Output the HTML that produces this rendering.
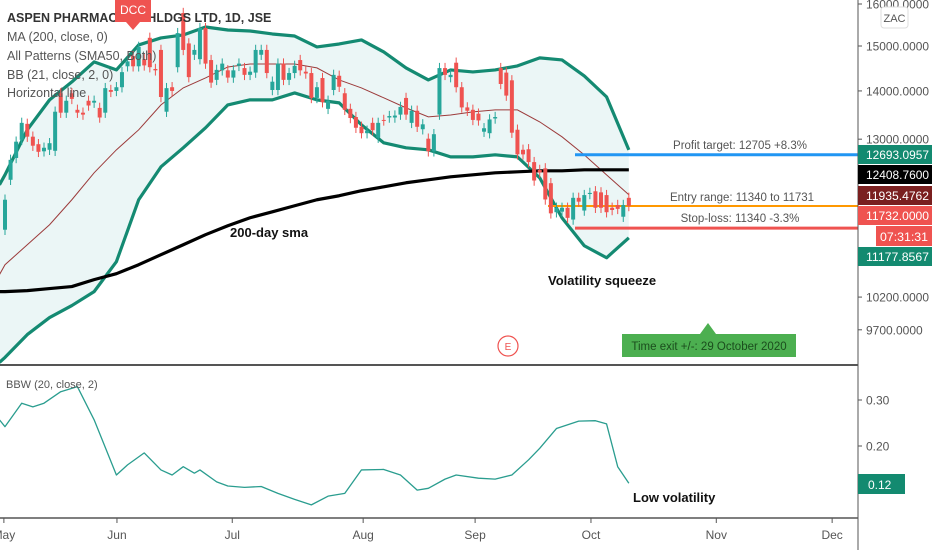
<!DOCTYPE html>
<html><head><meta charset="utf-8">
<style>
html,body{margin:0;padding:0;background:#fff;}
body{width:932px;height:550px;overflow:hidden;position:relative;font-family:"Liberation Sans",sans-serif;}
svg{position:absolute;left:0;top:0;}
</style></head>
<body>
<svg id="chart" width="932" height="550" viewBox="0 0 932 550">
  <rect x="0" y="0" width="932" height="550" fill="#ffffff"/>
  <g id="bands"></g>
  <g id="sma"></g>
  <g id="levels"></g>
  <g id="candles"></g>
  <g id="bbw"></g>
  <g id="axes"></g>
  <g id="annot"></g>
</svg>
<script>
// ---------- data ----------
const opens = [11312,12214,12630,12987,13310,13050,12900,12760,12790,12770,13950,13540,13950,13600,13540,13790,13750,13640,13540,14020,
14000,14080,14540,14770,14540,14700,15190,14480,14910,13560,14080,14520,15780,15060,14800,14700,15420,14680,14240,14450,
14450,14290,14550,14500,14350,14400,14800,14910,14020,14020,14600,14240,14390,14680,14420,14390,13850,14280,13620,14020,
14330,13950,13620,13450,13250,13120,13330,13030,13390,13440,13440,13500,13850,13330,13580,13200,13010,12760,13500,14500,
14300,14620,14080,13650,13600,13520,13150,13120,13420,14500,14400,14230,13190,12790,12800,12550,12400,12430,12150,11620,
11630,11700,11490,11880,11650,11950,12000,11980,11930,11700,11750,11540,11880];
const closes = [11845,12594,12950,13330,13050,12870,12750,12830,12920,13560,13540,13790,13830,13540,13500,13690,13790,13440,14060,13980,
14080,14410,14650,14540,14980,14560,14520,14450,13870,14060,14000,15300,14910,14300,14910,15420,14600,14180,14460,14600,
14290,14450,14600,14350,14420,14910,14910,14390,14200,14600,14240,14390,14550,14450,14380,13850,14080,13760,13790,14350,
14090,13600,13430,13230,13120,13170,13180,13330,13380,13470,13480,13660,13500,13580,13250,13300,12760,13100,14500,14350,
14350,14080,13650,13580,13390,13380,13220,13400,13450,14150,13900,13130,12700,12700,12550,12200,12350,11850,11600,11700,
11700,11520,11880,11810,11930,11970,11700,11700,11620,11660,11680,11750,11732];
const bandIdx = [-1,0,4,8,12,16,20,24,28,32,36,40,44,48,52,56,60,64,68,72,76,80,84,88,92,96,100,104,108,112];
const bbUpper = [12120,12307,13188,13809,14195,14638,14459,15025,15187,15257,15445,15374,15350,15280,15232,14979,15047,15140,14864,14504,14239,14459,14415,14459,14549,14729,14683,14327,13873,12789];
const bbLower = [9225,9297,9629,9884,10068,10286,10770,11845,12459,12829,13229,13703,13809,13809,13957,13809,13745,13288,12927,12829,12789,12651,12651,12691,12651,12250,11520,11037,10835,11173];
const bbMid = [10557,10720,11054,11399,11845,12345,12789,13188,13703,14065,14283,14525,14592,14592,14592,14504,14239,14065,13852,13640,13453,13493,13556,13598,13598,13350,13047,12691,12307,11936];
const sma200 = [10286,10286,10302,10334,10366,10477,10573,10720,10886,11054,11226,11381,11522,11628,11736,11845,11918,12010,12083,12158,12214,12270,12307,12345,12364,12383,12383,12402,12402,12402];
const bbwIdx = [-1,0,3,5,7,10,13,16,20,22,25,28,30,32,34,35,38,40,43,46,49,52,55,58,61,64,68,71,74,76,79,81,85,88,91,94,96,99,103,106,108,110,112];
const bbwVals = [0.257,0.242,0.293,0.285,0.293,0.318,0.329,0.257,0.137,0.159,0.185,0.148,0.137,0.155,0.141,0.148,0.122,0.113,0.110,0.112,0.097,0.084,0.072,0.091,0.097,0.148,0.149,0.137,0.104,0.108,0.128,0.137,0.130,0.128,0.137,0.170,0.195,0.238,0.254,0.255,0.248,0.155,0.119];
const priceTicks = [16000,15000,14000,13000,10200,9700];
const bbwTicks = [0.30,0.20];
const months = ["May","Jun","Jul","Aug","Sep","Oct","Nov","Dec"];
const monthIdx = [-0.2,20.1,40.8,64.3,84.4,105.2,127.7,148.5];
const profitTarget = 12693.0957, entryLevel = 11732, stopLoss = 11340;

// ---------- scales ----------
const NS = "http://www.w3.org/2000/svg";
const xOf = i => 5 + 5.57 * i;
const yOf = p => 4 + 651 * Math.log(16000 / p);
const yB = v => 446 + (0.20 - v) * 460;
function mk(tag, attrs, parent){const e=document.createElementNS(NS,tag);for(const k in attrs)e.setAttribute(k,attrs[k]);parent.appendChild(e);return e;}
const G = id => document.getElementById(id);

// ---------- bands ----------
const up = bandIdx.map((i,k)=>[xOf(i),yOf(bbUpper[k])]);
const lo = bandIdx.map((i,k)=>[xOf(i),yOf(bbLower[k])]);
const fillPts = up.concat(lo.slice().reverse()).map(p=>p.join(",")).join(" ");
const bf = mk("polygon",{points:fillPts,fill:"#ebf6f6"},G("bands"));


const ul = mk("polyline",{points:up.map(p=>p.join(",")).join(" "),fill:"none",stroke:"#148a72","stroke-width":3.2,"stroke-linejoin":"round"},G("bands"));


const ll = mk("polyline",{points:lo.map(p=>p.join(",")).join(" "),fill:"none",stroke:"#148a72","stroke-width":3.2,"stroke-linejoin":"round"},G("bands"));


const ml = mk("polyline",{points:bandIdx.map((i,k)=>xOf(i)+","+yOf(bbMid[k])).join(" "),fill:"none",stroke:"#9c3b3b","stroke-width":1},G("bands"));



// ---------- 200 sma ----------
const sl = mk("polyline",{points:bandIdx.map((i,k)=>xOf(i)+","+yOf(sma200[k])).join(" "),fill:"none",stroke:"#000","stroke-width":3.2,"stroke-linejoin":"round"},G("sma"));



// ---------- horizontal levels ----------
const lv = G("levels");
const l1 = mk("line",{x1:575,x2:858,y1:yOf(profitTarget),y2:yOf(profitTarget),stroke:"#2196f3","stroke-width":3},lv);


const l2 = mk("line",{x1:548,x2:858,y1:yOf(entryLevel),y2:yOf(entryLevel),stroke:"#ff9800","stroke-width":2},lv);


const l3 = mk("line",{x1:575,x2:858,y1:yOf(stopLoss),y2:yOf(stopLoss),stroke:"#ef5350","stroke-width":3},lv);



// ---------- candles ----------
const cg = G("candles");
opens.forEach((o,i)=>{
  const c = closes[i]; const up = c>=o; const col = up?"#26a69a":"#ef5350";
  const x = xOf(i); const hi = Math.max(o,c)*1.008, lw = Math.min(o,c)*0.992;
  const w = mk("line",{x1:x,x2:x,y1:yOf(hi),y2:yOf(lw),stroke:col,"stroke-width":1},cg);
  
  
  const yt = yOf(Math.max(o,c)), yb = yOf(Math.min(o,c));
  const b = mk("rect",{x:x-2,y:yt,width:4,height:Math.max(1,yb-yt),fill:col},cg);
  
  
});

// ---------- BBW ----------
const bl = mk("polyline",{points:bbwIdx.map((i,k)=>xOf(i)+","+yB(bbwVals[k])).join(" "),fill:"none",stroke:"#2a9d8f","stroke-width":1.3,"stroke-linejoin":"round"},G("bbw"));



// ---------- axes ----------
const ax = G("axes");
const al = mk("line",{x1:858,x2:858,y1:0,y2:550,stroke:"#555","stroke-width":1},ax);


const dv = mk("line",{x1:0,x2:858,y1:365,y2:365,stroke:"#555","stroke-width":2},ax);


const bt = mk("line",{x1:0,x2:858,y1:518,y2:518,stroke:"#555","stroke-width":1.5},ax);


priceTicks.forEach(p=>{
  const y = yOf(p);
  const t = mk("line",{x1:858,x2:862,y1:y,y2:y,stroke:"#555"},ax);
  
  
  const s = p.toFixed(4);
  const tx = mk("text",{x:866,y:y+4.5,"font-size":12,fill:"#555","font-family":"Liberation Sans, sans-serif",textLength:s.length*6.3,lengthAdjust:"spacingAndGlyphs"},ax);
  tx.textContent = s;
  
  
});
bbwTicks.forEach(v=>{
  const y = yB(v);
  const t = mk("line",{x1:858,x2:862,y1:y,y2:y,stroke:"#555"},ax);
  
  
  const tx = mk("text",{x:866,y:y+4.5,"font-size":12,fill:"#555","font-family":"Liberation Sans, sans-serif"},ax);
  tx.textContent = v.toFixed(2);
  
  
});
months.forEach((m,k)=>{
  const x = xOf(monthIdx[k]);
  const t = mk("line",{x1:x,x2:x,y1:518,y2:523,stroke:"#555"},ax);
  
  
  const tx = mk("text",{x:x,y:539,"font-size":12,fill:"#555","text-anchor":"middle","font-family":"Liberation Sans, sans-serif"},ax);
  tx.textContent = m;
  
  
});
</script>
<svg width="932" height="550" style="pointer-events:none">
  <g font-family="Liberation Sans, sans-serif">
    <rect x="858" y="145" width="74" height="19" fill="#138a70"/>
    <text x="866" y="159" font-size="12" fill="#fff" textLength="63" lengthAdjust="spacingAndGlyphs">12693.0957</text>
    <rect x="858" y="165" width="74" height="19" fill="#000"/>
    <text x="866" y="179" font-size="12" fill="#fff" textLength="63" lengthAdjust="spacingAndGlyphs">12408.7600</text>
    <rect x="858" y="186" width="74" height="19" fill="#7a1f1f"/>
    <text x="866" y="200" font-size="12" fill="#fff" textLength="63" lengthAdjust="spacingAndGlyphs">11935.4762</text>
    <rect x="858" y="206" width="74" height="19" fill="#ef5350"/>
    <text x="866" y="220" font-size="12" fill="#fff" textLength="63" lengthAdjust="spacingAndGlyphs">11732.0000</text>
    <rect x="876" y="226" width="56" height="20" fill="#ef5350"/>
    <text x="880" y="241" font-size="12" fill="#fff" textLength="48" lengthAdjust="spacingAndGlyphs">07:31:31</text>
    <rect x="858" y="247" width="74" height="19" fill="#138a70"/>
    <text x="866" y="261" font-size="12" fill="#fff" textLength="63" lengthAdjust="spacingAndGlyphs">11177.8567</text>
    <rect x="858" y="474" width="47" height="20" fill="#138a70"/>
    <text x="868" y="489" font-size="12" fill="#fff">0.12</text>
    <rect x="881" y="7" width="27" height="21" rx="3" fill="#fff" stroke="#ddd"/>
    <text x="894.5" y="22" font-size="11" fill="#555" text-anchor="middle">ZAC</text>
    <text x="7" y="22" font-size="12.5" fill="#333" font-weight="bold">ASPEN PHARMACARE HLDGS LTD, 1D, JSE</text>
    <text x="7" y="41" font-size="12.5" fill="#555">MA (200, close, 0)</text>
    <text x="7" y="60" font-size="12.5" fill="#555">All Patterns (SMA50, Both)</text>
    <text x="7" y="79" font-size="12.5" fill="#555">BB (21, close, 2, 0)</text>
    <text x="7" y="97" font-size="12.5" fill="#555">Horizontal line</text>
    <path d="M115,0 H151 V22 H140 L133,30 L126,22 H115 Z" fill="#ef5350"/>
    <text x="133" y="14" font-size="12" fill="#fff" text-anchor="middle">DCC</text>
    <text x="740" y="149" font-size="11.5" fill="#555" text-anchor="middle">Profit target: 12705 +8.3%</text>
    <text x="742" y="201" font-size="11.5" fill="#555" text-anchor="middle">Entry range: 11340 to 11731</text>
    <text x="740" y="222" font-size="11.5" fill="#555" text-anchor="middle">Stop-loss: 11340 -3.3%</text>
    <text x="230" y="237" font-size="13" fill="#111" font-weight="bold">200-day sma</text>
    <text x="548" y="285" font-size="13" fill="#111" font-weight="bold">Volatility squeeze</text>
    <text x="633" y="502" font-size="13" fill="#111" font-weight="bold">Low volatility</text>
    <circle cx="508" cy="346" r="10" fill="#fff" stroke="#ef5350" stroke-width="1.2"/>
    <text x="508" y="350" font-size="10" fill="#ef5350" text-anchor="middle">E</text>
    <path d="M622,334 H700 L708,323 L716,334 H796 V357 H622 Z" fill="#4caf50"/>
    <text x="709" y="350" font-size="11.5" fill="#1b4d1d" text-anchor="middle">Time exit +/-: 29 October 2020</text>
    <text x="6" y="388" font-size="11" fill="#555">BBW (20, close, 2)</text>
  </g>
</svg>
</body></html>
